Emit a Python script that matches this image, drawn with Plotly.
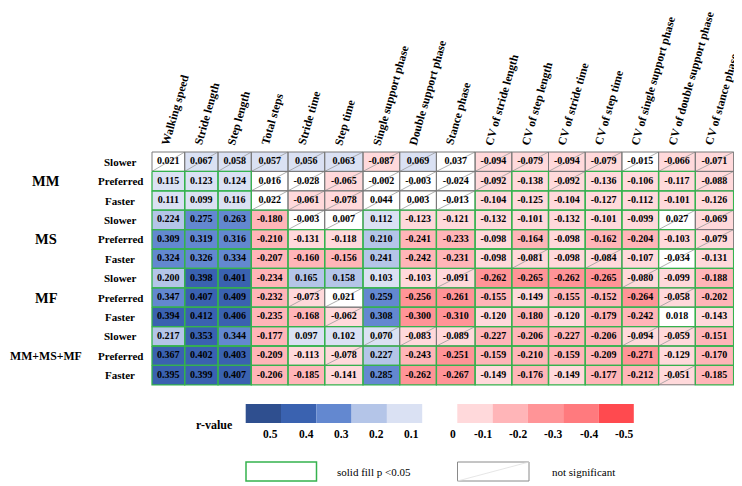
import plotly.graph_objects as go

# ---------------- data ----------------
columns = ["Walking speed", "Stride length", "Step length", "Total steps", "Stride time",
           "Step time", "Single support phase", "Double support phase", "Stance phase",
           "CV of stride length", "CV of step length", "CV of stride time", "CV of step time",
           "CV of single support phase", "CV of double support phase", "CV of stance phase"]
groups = ["MM", "MS", "MF", "MM+MS+MF"]
speeds = ["Slower", "Preferred", "Faster"]

mm_slower    = [0.021, 0.067, 0.058, 0.057, 0.056, 0.063, -0.087, 0.069, 0.037, -0.094, -0.079, -0.094, -0.079, -0.015, -0.066, -0.071]
mm_preferred = [0.115, 0.123, 0.124, 0.016, -0.028, -0.065, -0.002, -0.003, -0.024, -0.092, -0.138, -0.092, -0.136, -0.106, -0.117, -0.088]
mm_faster    = [0.111, 0.099, 0.116, 0.022, -0.061, -0.078, 0.044, 0.003, -0.013, -0.104, -0.125, -0.104, -0.127, -0.112, -0.101, -0.126]
ms_slower    = [0.224, 0.275, 0.263, -0.180, -0.003, 0.007, 0.112, -0.123, -0.121, -0.132, -0.101, -0.132, -0.101, -0.099, 0.027, -0.069]
ms_preferred = [0.309, 0.319, 0.316, -0.210, -0.131, -0.118, 0.210, -0.241, -0.233, -0.098, -0.164, -0.098, -0.162, -0.204, -0.103, -0.079]
ms_faster    = [0.324, 0.326, 0.334, -0.207, -0.160, -0.156, 0.241, -0.242, -0.231, -0.098, -0.081, -0.098, -0.084, -0.107, -0.034, -0.131]
mf_slower    = [0.200, 0.398, 0.401, -0.234, 0.165, 0.158, 0.103, -0.103, -0.091, -0.262, -0.265, -0.262, -0.265, -0.080, -0.099, -0.188]
mf_preferred = [0.347, 0.407, 0.409, -0.232, -0.073, 0.021, 0.259, -0.256, -0.261, -0.155, -0.149, -0.155, -0.152, -0.264, -0.058, -0.202]
mf_faster    = [0.394, 0.412, 0.406, -0.235, -0.168, -0.062, 0.308, -0.300, -0.310, -0.120, -0.180, -0.120, -0.179, -0.242, 0.018, -0.143]
all_slower    = [0.217, 0.353, 0.344, -0.177, 0.097, 0.102, 0.070, -0.083, -0.089, -0.227, -0.206, -0.227, -0.206, -0.094, -0.059, -0.151]
all_preferred = [0.367, 0.402, 0.403, -0.209, -0.113, -0.078, 0.227, -0.243, -0.251, -0.159, -0.210, -0.159, -0.209, -0.271, -0.129, -0.170]
all_faster    = [0.395, 0.399, 0.407, -0.206, -0.185, -0.141, 0.285, -0.262, -0.267, -0.149, -0.176, -0.149, -0.177, -0.212, -0.051, -0.185]

r_values = [mm_slower, mm_preferred, mm_faster, ms_slower, ms_preferred, ms_faster,
            mf_slower, mf_preferred, mf_faster, all_slower, all_preferred, all_faster]

# column indices that are NOT significant, per row
not_significant = [
    list(range(16)),
    [3, 4, 5, 6, 7, 8, 9, 11, 15],
    [3, 4, 5, 6, 7, 8],
    [4, 5, 14, 15],
    [15],
    [10, 12, 14],
    [8, 13],
    [4, 5, 14],
    [5],
    [6, 7, 8, 13, 14],
    [5],
    [14],
]

legend_pos_ticks = ["0.5", "0.4", "0.3", "0.2", "0.1"]
legend_neg_ticks = ["0", "-0.1", "-0.2", "-0.3", "-0.4", "-0.5"]

# ---------------- style / layout ----------------
W, H = 742, 486
PAGE_OFF = 8  # default body margin of the html page
SERIF = "Liberation Serif"
TABLE_X0, TABLE_Y0, ROW_H = 152.0, 152.0, 19.4
COL_W = [32.7, 33.3, 33.3, 36.7, 36.7, 38.3, 36.7, 36.7, 38.7, 36.7, 36.7, 36.7, 36.7, 36.7, 36.7, 38.3]

BLUES = ["#2f4f8f", "#3a62b0", "#6388d0", "#b4c5e8", "#dae1f3"]   # 0.5 .. 0.1
REDS = ["#ffd9db", "#ffb5b8", "#ff9497", "#ff7a7e", "#ff4a4f"]    # -0.1 .. -0.5
GREEN = "#35b24e"
GREY = "#7a7a7a"

x_edges = [TABLE_X0]
for w in COL_W:
    x_edges.append(x_edges[-1] + w)
n_rows = len(r_values)
y_edges = [TABLE_Y0 + i * ROW_H for i in range(n_rows + 1)]
x_cent = [(x_edges[i] + x_edges[i + 1]) / 2 for i in range(len(COL_W))]
y_cent = [(y_edges[i] + y_edges[i + 1]) / 2 for i in range(n_rows)]

# stepped colour scale, bins of width 0.1 centred on multiples of 0.1
zmin, zmax = -0.55, 0.55
bin_colors = list(reversed(REDS)) + ["#ffffff"] + list(reversed(BLUES))
nb = len(bin_colors)
colorscale = []
for i, c in enumerate(bin_colors):
    colorscale.append([i / nb, c])
    colorscale.append([(i + 1) / nb, c])

fig = go.Figure()
fig.add_trace(go.Heatmap(
    z=r_values, x=x_edges, y=y_edges, zmin=zmin, zmax=zmax,
    colorscale=colorscale, showscale=False, hoverinfo="skip", xgap=0, ygap=0))

# borders
gx, gy, sx, sy, dx, dy = [], [], [], [], [], []
for r in range(n_rows):
    for c in range(len(COL_W)):
        x0, x1, y0, y1 = x_edges[c], x_edges[c + 1], y_edges[r], y_edges[r + 1]
        rect_x = [x0, x1, x1, x0, x0, None]
        rect_y = [y0, y0, y1, y1, y0, None]
        if c in not_significant[r]:
            gx += rect_x
            gy += rect_y
            dx += [x0, x1, None]
            dy += [y1, y0, None]
        else:
            sx += rect_x
            sy += rect_y

fig.add_trace(go.Scatter(x=dx, y=dy, mode="lines", line=dict(color="#9a9a9a", width=0.8),
                         hoverinfo="skip", showlegend=False))
fig.add_trace(go.Scatter(x=gx, y=gy, mode="lines", line=dict(color=GREY, width=1),
                         hoverinfo="skip", showlegend=False))
fig.add_trace(go.Scatter(x=sx, y=sy, mode="lines", line=dict(color=GREEN, width=1.3),
                         hoverinfo="skip", showlegend=False))

# cell text
tx, ty, tt = [], [], []
for r in range(n_rows):
    for c in range(len(COL_W)):
        tx.append(x_cent[c])
        ty.append(y_cent[r])
        tt.append("<b>%.3f</b>" % r_values[r][c])
fig.add_trace(go.Scatter(x=tx, y=ty, text=tt, mode="text",
                         textfont=dict(family=SERIF, size=10, color="black"),
                         hoverinfo="skip", showlegend=False))

annotations = []
# column headers
for c, name in enumerate(columns):
    annotations.append(dict(x=x_edges[c] + 5, y=TABLE_Y0 - 3, xref="x", yref="y",
                            text="<b>%s</b>" % name, showarrow=False, textangle=-74,
                            xanchor="left", yanchor="bottom",
                            font=dict(family=SERIF, size=11.6, color="black")))
# row labels
for r in range(n_rows):
    annotations.append(dict(x=120, y=y_cent[r], xref="x", yref="y",
                            text="<b>%s</b>" % speeds[r % 3], showarrow=False,
                            xanchor="center", yanchor="middle",
                            font=dict(family=SERIF, size=11, color="black")))
for g, name in enumerate(groups):
    annotations.append(dict(x=46, y=y_cent[g * 3 + 1], xref="x", yref="y",
                            text="<b>%s</b>" % name, showarrow=False,
                            xanchor="center", yanchor="middle",
                            font=dict(family=SERIF, size=14.5 if len(name) < 4 else 11.8,
                                      color="black")))

# colour legend
shapes = []
LEG_Y0, LEG_Y1 = 404, 423
BX0, RX0, BW = 245.7, 457.3, 35.3
for i, col in enumerate(BLUES):
    shapes.append(dict(type="rect", xref="x", yref="y", x0=BX0 + i * BW, x1=BX0 + (i + 1) * BW,
                       y0=LEG_Y0, y1=LEG_Y1, fillcolor=col, line=dict(width=0)))
    annotations.append(dict(x=BX0 + i * BW + 25, y=434, xref="x", yref="y",
                            text="<b>%s</b>" % legend_pos_ticks[i], showarrow=False,
                            font=dict(family=SERIF, size=11.5, color="black")))
for i, col in enumerate(REDS):
    shapes.append(dict(type="rect", xref="x", yref="y", x0=RX0 + i * BW, x1=RX0 + (i + 1) * BW,
                       y0=LEG_Y0, y1=LEG_Y1, fillcolor=col, line=dict(width=0)))
for i, lab in enumerate(legend_neg_ticks):
    lx = RX0 - 4 if i == 0 else RX0 + (i - 1) * BW + 25.5
    annotations.append(dict(x=lx, y=434, xref="x", yref="y",
                            text="<b>%s</b>" % lab, showarrow=False,
                            font=dict(family=SERIF, size=11.5, color="black")))
annotations.append(dict(x=214, y=425, xref="x", yref="y", text="<b>r-value</b>", showarrow=False,
                        font=dict(family=SERIF, size=12, color="black")))

# significance legend
shapes.append(dict(type="rect", xref="x", yref="y", x0=246, x1=316.5, y0=462, y1=481,
                   line=dict(color=GREEN, width=1.5), fillcolor="white"))
shapes.append(dict(type="rect", xref="x", yref="y", x0=457.5, x1=529, y0=462, y1=481,
                   line=dict(color="#8a8a8a", width=1), fillcolor="white"))
shapes.append(dict(type="line", xref="x", yref="y", x0=457.5, x1=529, y0=481, y1=462,
                   line=dict(color="#e0e0e0", width=0.8)))
annotations.append(dict(x=335, y=472, xref="x", yref="y", text="solid fill p &lt;0.05",
                        showarrow=False, xanchor="left",
                        font=dict(family=SERIF, size=11, color="black")))
annotations.append(dict(x=550, y=472, xref="x", yref="y", text="not significant",
                        showarrow=False, xanchor="left",
                        font=dict(family=SERIF, size=11, color="black")))

fig.update_layout(
    width=W - PAGE_OFF, height=H - PAGE_OFF, margin=dict(l=0, r=0, t=0, b=0, pad=0),
    paper_bgcolor="white", plot_bgcolor="white", showlegend=False,
    xaxis=dict(range=[PAGE_OFF, W], visible=False, domain=[0, 1], fixedrange=True),
    yaxis=dict(range=[H, PAGE_OFF], visible=False, domain=[0, 1], fixedrange=True),
    annotations=annotations, shapes=shapes,
)
fig.write_html("out.html")
